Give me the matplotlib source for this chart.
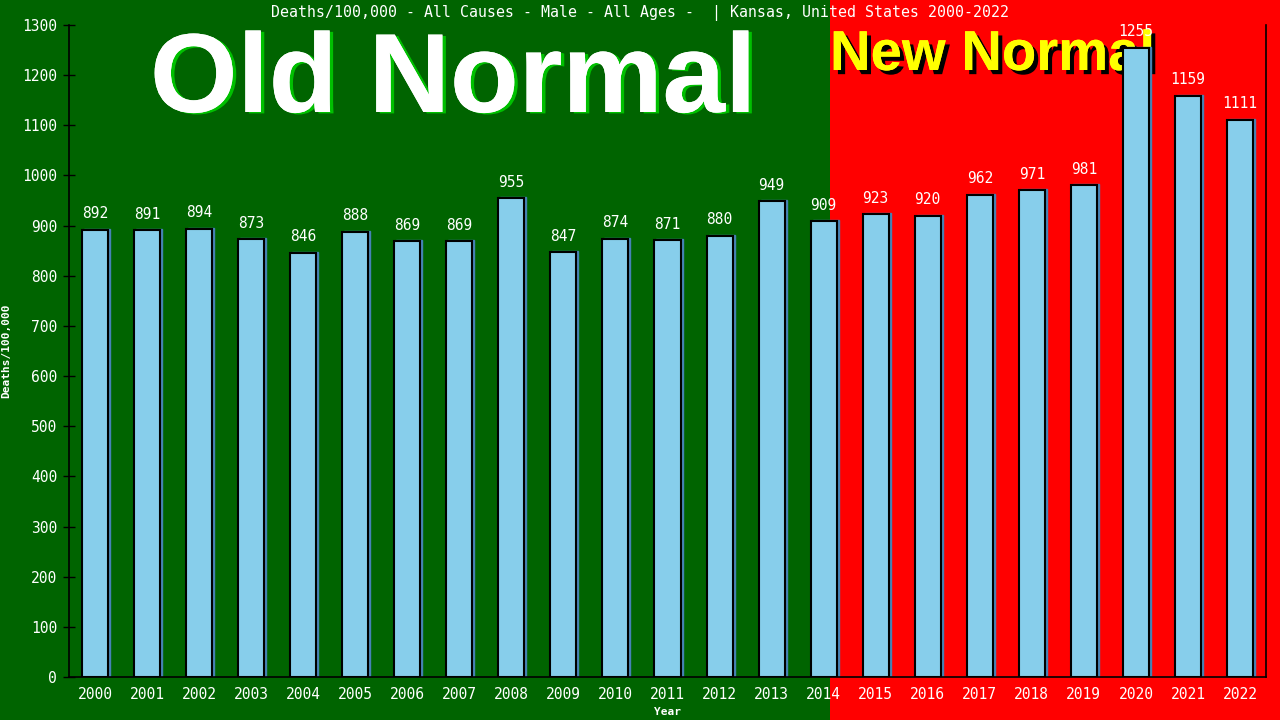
import numpy as np
import matplotlib
matplotlib.use("Agg")
import matplotlib.pyplot as plt
import matplotlib.transforms as mtransforms
import matplotlib.patheffects as pe
from matplotlib.patches import Rectangle

years = [str(y) for y in range(2000, 2023)]
deaths = [892, 891, 894, 873, 846, 888, 869, 869, 955, 847, 874, 871,
          880, 949, 909, 923, 920, 962, 971, 981, 1255, 1159, 1111]
title = "Deaths/100,000 - All Causes - Male - All Ages -  | Kansas, United States 2000-2022"

mono = "DejaVu Sans Mono"

fig = plt.figure(figsize=(12.8, 7.2), dpi=100)
fig.patch.set_facecolor("#006400")
# red "new normal" half of the background
fig.patches.append(Rectangle((830 / 1280, 0), 1, 1, transform=fig.transFigure,
                             facecolor="#ff0000", edgecolor="none", zorder=-10))

ax = fig.add_axes([69 / 1280, 43 / 720, 1197 / 1280, 652 / 720])
ax.patch.set_visible(False)

x = np.arange(len(years))
shadow = ax.transData + mtransforms.ScaledTranslation(2 / 100, 1 / 100, fig.dpi_scale_trans)
ax.bar(x, deaths, width=0.5, color="#4682B4", edgecolor="#4682B4", linewidth=1,
       transform=shadow, zorder=1)
bars = ax.bar(x, deaths, width=0.5, color="#87CEEB", edgecolor="black",
              linewidth=1.5, zorder=2)

for xi, v in zip(x, deaths):
    ax.annotate(str(v), (xi, v), xytext=(0, 6), textcoords="offset points",
                ha="center", va="bottom", color="white", fontsize=10.5,
                family=mono, zorder=5)

ax.set_xlim(-0.5, len(years) - 0.5)
ax.set_ylim(0, 1300)
ax.set_yticks(range(0, 1301, 100))
ax.set_xticks(x)
ax.set_xticklabels(years)
ax.tick_params(axis="y", direction="inout", length=9, width=1, colors="black",
               labelcolor="white", labelsize=10.5, pad=4)
ax.tick_params(axis="x", length=0, labelcolor="white", labelsize=10.5, pad=7)
for lab in ax.get_xticklabels() + ax.get_yticklabels():
    lab.set_family(mono)

ax.spines["top"].set_visible(False)
for s in ["left", "bottom", "right"]:
    ax.spines[s].set_color("black")
    ax.spines[s].set_linewidth(1.2)

ax.set_xlabel("Year", color="white", fontsize=8, fontweight="bold", family=mono,
              labelpad=4)
ax.set_ylabel("Deaths/100,000", color="white", fontsize=8, fontweight="bold",
              family=mono, labelpad=4)
ax.yaxis.set_label_coords(-0.048, 0.5)

fig.text(0.5, 1 - 13 / 720, title, ha="center", va="center", color="white",
         fontsize=10.7, family=mono)

# big labels sit behind the axes so bars and value labels draw over them
fig.text(150 / 1280, 1 - 112 / 720, "Old Normal", ha="left", va="baseline",
         color="white", fontsize=81, fontweight="bold", family="Liberation Sans",
         path_effects=[pe.withSimplePatchShadow(offset=(2.5, -1), shadow_rgbFace="#00c000",
                                                alpha=1),
                       pe.Normal()], zorder=-1)
fig.text(830 / 1280, 1 - 70 / 720, "New Normal", ha="left", va="baseline",
         color="#ffff00", fontsize=40.5, fontweight="bold", family="Liberation Sans",
         path_effects=[pe.withSimplePatchShadow(offset=(3, -3), shadow_rgbFace="black",
                                                alpha=1),
                       pe.Normal()], zorder=-1)

fig.savefig("out.png", dpi=100, facecolor=fig.get_facecolor())
